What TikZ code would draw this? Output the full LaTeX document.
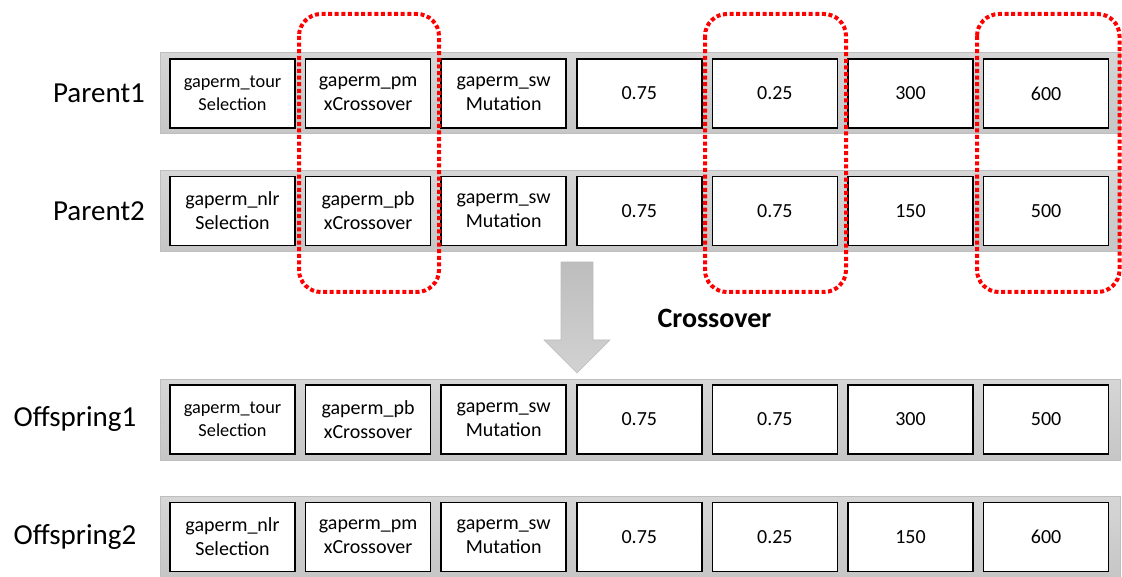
\documentclass[tikz,border=0pt]{standalone}
\usepackage{fontspec}
\setmainfont{Carlito}
\definecolor{barfill}{HTML}{C6C6C6}
\definecolor{barlight}{HTML}{D6D6D6}
\definecolor{barline}{HTML}{BEBEBE}
\definecolor{arrowtop}{HTML}{BDBDBD}
\definecolor{arrowbot}{HTML}{D2D2D2}
\tikzset{
  chrom/.style={draw=barline, line width=1pt, top color=barlight, bottom color=barfill,
                minimum width=960pt, minimum height=81pt, inner sep=0pt},
  gene/.style={draw=black, line width=1.5pt, fill=white, minimum width=125pt,
               minimum height=69pt, inner sep=0pt, align=center,
               font=\fontsize{20}{24}\selectfont},
  genesmall/.style={gene, font=\fontsize{18.3}{22.5}\selectfont},
  rowlabel/.style={font=\fontsize{29}{34}\selectfont, inner sep=0pt},
  swapbox/.style={draw=red, line width=4pt, dash pattern=on 4pt off 2.6pt,
                  rounded corners=22pt},
}
\begin{document}
\begin{tikzpicture}[x=1pt, y=-1pt]
  \useasboundingbox (0,0) rectangle (1122,577);

  % chromosome bars
  \foreach \n/\y in {p1/93.5, p2/211, o1/419.5, o2/537}
    \node[chrom] (\n) at (640,\y) {};

  % genes: name, centre y, style of first gene, then the seven gene values
  \foreach \n/\y/\s/\a/\b/\c/\d/\e/\f/\g in {
      p1/93.5/genesmall/{gaperm\_tour\\Selection}/{gaperm\_pm\\xCrossover}/{gaperm\_sw\\Mutation}/0.75/0.25/300/600,
      p2/211/gene/{gaperm\_nlr\\Selection}/{gaperm\_pb\\xCrossover}/{gaperm\_sw\\Mutation}/0.75/0.75/150/500,
      o1/419.5/genesmall/{gaperm\_tour\\Selection}/{gaperm\_pb\\xCrossover}/{gaperm\_sw\\Mutation}/0.75/0.75/300/500,
      o2/537/gene/{gaperm\_nlr\\Selection}/{gaperm\_pm\\xCrossover}/{gaperm\_sw\\Mutation}/0.75/0.25/150/600}
  {
    \node[\s] (\n g1) at (232.5,\y) {\a};
    \node[gene] (\n g2) at (368.1,\y) {\b};
    \node[gene] (\n g3) at (503.7,\y) {\c};
    \node[gene] (\n g4) at (639.3,\y) {\d};
    \node[gene] (\n g5) at (774.9,\y) {\e};
    \node[gene] (\n g6) at (910.5,\y) {\f};
    \node[gene] (\n g7) at (1046.1,\y) {\g};
  }

  % row labels
  \node[rowlabel] (lp1) at (99,93) {Parent1};
  \node[rowlabel] (lp2) at (99,211) {Parent2};
  \node[rowlabel] (lo1) at (75,419) {Offspring1};
  \node[rowlabel] (lo2) at (75,537) {Offspring2};

  % crossover arrow
  \shade[top color=arrowtop, bottom color=arrowbot, draw=arrowtop, line width=0.6pt]
    (561,262) -- (593,262) -- (593,340) -- (610,340) -- (577,373)
    -- (544,340) -- (561,340) -- cycle;
  \node[font=\fontsize{28}{33}\selectfont\bfseries, inner sep=0pt] (xo) at (714.5,318) {Crossover};

  % exchanged gene positions
  \draw[swapbox] (299,14) rectangle (439,292);
  \draw[swapbox] (705,14) rectangle (846,292);
  \draw[swapbox] (977,14) rectangle (1119.5,292);
\end{tikzpicture}
\end{document}
